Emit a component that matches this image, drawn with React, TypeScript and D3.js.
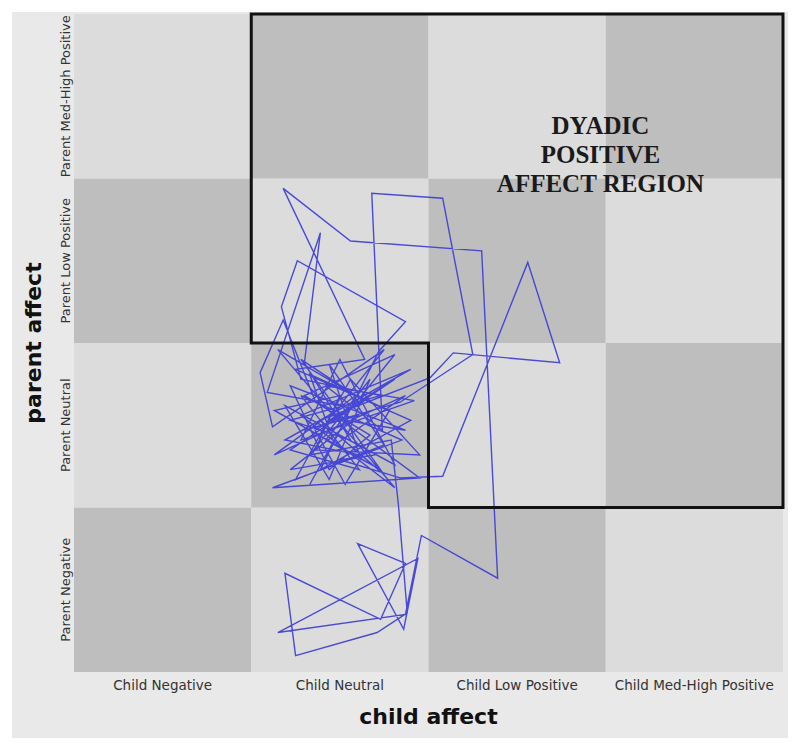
import React from "react";
import * as d3 from "d3";

// Categories
const childCategories = ["Child Negative", "Child Neutral", "Child Low Positive", "Child Med-High Positive"];
const parentCategories = ["Parent Negative", "Parent Neutral", "Parent Low Positive", "Parent Med-High Positive"];

// Region outline (in category units: child 0-4, parent 0-4)
const regionChild = [1, 4, 4, 2, 2, 1];
const regionParent = [4, 4, 1, 1, 2, 2];
const regionLabel = ["DYADIC", "POSITIVE", "AFFECT REGION"];

// Trajectory (continuous positions within the grid; integer part = category index)
const childSeries = [
  1.44, 1.81, 1.22, 1.61, 1.28, 1.85, 1.12, 1.95, 1.36, 1.18,
  1.05, 1.12, 1.75, 1.50, 1.09, 1.39, 1.30, 1.56, 1.22, 1.73,
  1.28, 1.17, 1.26, 1.87, 1.72, 1.39, 1.90, 1.25, 1.64, 1.18,
  1.56, 2.30, 2.39, 1.96, 1.87, 1.15, 1.94, 1.86, 1.60, 1.87,
  1.73, 1.19, 1.25, 1.71, 1.88, 1.83, 1.79, 1.33, 1.67, 1.44,
  1.19, 1.81, 1.50, 1.28, 1.92, 1.42, 1.74, 1.68, 2.08, 2.25,
  1.84, 1.30, 1.61, 1.22, 1.70, 1.50, 1.84, 2.08, 2.56, 2.74,
  2.14, 2.01, 1.39, 1.75, 1.28, 1.59, 1.13, 1.87, 1.47, 1.33,
  1.78, 1.53, 1.36, 1.64, 1.15, 1.81, 1.28, 1.90, 1.19, 1.61,
  1.44, 1.75, 1.25, 1.56, 1.95, 1.36, 1.50, 1.13, 1.73, 1.42,
  1.81, 1.30, 1.67, 1.44, 1.22, 1.87, 1.53, 1.33,
];
const parentSeries = [
  1.53, 1.78, 1.35, 1.23, 1.68, 1.41, 1.12, 1.18, 1.65, 2.14,
  1.82, 1.49, 1.96, 1.62, 1.70, 2.67, 1.88, 1.41, 1.53, 1.68,
  1.78, 2.22, 2.50, 2.13, 1.95, 1.23, 1.53, 1.84, 1.90, 2.94,
  2.62, 2.56, 0.57, 0.83, 0.35, 0.24, 0.69, 0.26, 0.78, 0.66,
  0.32, 0.60, 0.10, 0.24, 0.36, 1.02, 1.41, 1.32, 1.78, 1.17,
  1.62, 1.26, 1.90, 1.41, 1.65, 1.74, 1.47, 2.91, 2.88, 1.93,
  1.64, 1.47, 1.56, 1.23, 1.32, 1.29, 1.18, 1.19, 2.49, 1.88,
  1.94, 1.79, 1.53, 1.20, 1.90, 1.68, 1.32, 1.68, 1.38, 1.81,
  1.59, 1.14, 1.47, 1.65, 1.96, 1.12, 1.56, 1.84, 1.41, 1.32,
  1.87, 1.38, 1.17, 1.78, 1.32, 1.35, 1.68, 1.59, 1.23, 1.41,
  1.93, 1.68, 1.44, 1.23, 1.74, 1.47, 1.53, 1.14,
];

const W = 800;
const H = 752;
const gridLeft = 74;
const gridRight = 783;
const gridTop = 14;
const gridBottom = 672;

export default function App() {
  const x = d3.scaleLinear().domain([0, 4]).range([gridLeft, gridRight]);
  const y = d3.scaleLinear().domain([0, 4]).range([gridBottom, gridTop]);

  const cells: { c: number; p: number }[] = [];
  for (let c = 0; c < 4; c++) for (let p = 0; p < 4; p++) cells.push({ c, p });

  const pts: [number, number][] = childSeries.map((c, i) => [c, parentSeries[i]]);
  const line = d3
    .line<[number, number]>()
    .x((d) => x(d[0]))
    .y((d) => y(d[1]));

  const regionPts: [number, number][] = regionChild.map((c, i) => [c, regionParent[i]]);
  const regionPath = line(regionPts) + "Z";

  const sans = "'DejaVu Sans', 'Noto Sans', sans-serif";

  return (
    <svg
      width={W}
      height={H}
      style={{ position: "absolute", left: 0, top: 0, background: "#ffffff" }}
    >
      <rect x={12} y={12} width={776} height={726} fill="#e9e9e9" />
      {cells.map(({ c, p }) => {
        const rowFromTop = 3 - p;
        const light = (c + rowFromTop) % 2 === 0;
        return (
          <rect
            key={`${c}-${p}`}
            x={x(c)}
            y={y(p + 1)}
            width={x(c + 1) - x(c)}
            height={y(p) - y(p + 1)}
            fill={light ? "#dcdcdc" : "#bebebe"}
          />
        );
      })}

      <path
        d={line(pts) || ""}
        fill="none"
        stroke="#3a3ad8"
        strokeWidth={1.4}
        strokeOpacity={0.9}
        strokeLinejoin="miter"
      />

      <path d={regionPath} fill="none" stroke="#111111" strokeWidth={3} />

      {regionLabel.map((t, i) => (
        <text
          key={t}
          x={x(2.97)}
          y={134 + i * 29}
          textAnchor="middle"
          fontFamily="'Liberation Serif', 'Times New Roman', serif"
          fontWeight="bold"
          fontSize={25}
          fill="#1a1a1a"
        >
          {t}
        </text>
      ))}

      {childCategories.map((t, i) => (
        <text
          key={t}
          x={x(i + 0.5)}
          y={690}
          textAnchor="middle"
          fontFamily={sans}
          fontSize={13.5}
          fill="#333333"
        >
          {t}
        </text>
      ))}

      {parentCategories.map((t, i) => (
        <text
          key={t}
          transform={`translate(70,${y(i + 0.5)}) rotate(-90)`}
          textAnchor="middle"
          fontFamily={sans}
          fontSize={13}
          fill="#333333"
        >
          {t}
        </text>
      ))}

      <text
        x={(gridLeft + gridRight) / 2}
        y={724}
        textAnchor="middle"
        fontFamily={sans}
        fontWeight="bold"
        fontSize={22}
        fill="#111111"
      >
        child affect
      </text>
      <text
        transform={`translate(41,${(gridTop + gridBottom) / 2}) rotate(-90)`}
        textAnchor="middle"
        fontFamily={sans}
        fontWeight="bold"
        fontSize={22}
        fill="#111111"
      >
        parent affect
      </text>
    </svg>
  );
}
